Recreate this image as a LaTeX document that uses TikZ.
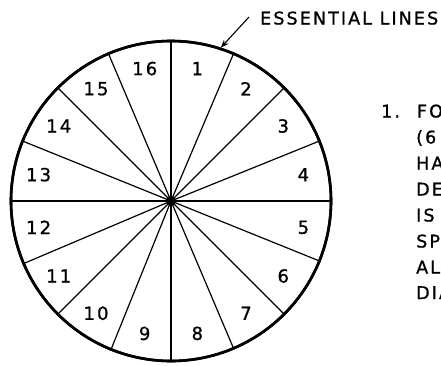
\documentclass[tikz,border=0pt]{standalone}
\usepackage{fontspec}
\usetikzlibrary{arrows.meta}
\newfontfamily\leroy[LetterSpace=12,FakeBold=1]{DejaVu Sans}
\begin{document}
\begin{tikzpicture}[x=1pt,y=1pt,
  rim/.style={circle, draw, line width=2.6pt, minimum size=320pt, inner sep=0pt},
  hubdot/.style={circle, fill, inner sep=0pt, minimum size=10pt},
  spoke/.style={line width=1.2pt},
  num/.style={font=\leroy\fontsize{18}{18}\selectfont, inner sep=0pt},
  txt/.style={font=\leroy\fontsize{17.5}{26}\selectfont, inner sep=0pt, anchor=base west},
  pointer/.style={line width=1.1pt, -{Stealth[length=8pt,width=6pt]}}]
\useasboundingbox (-171,-164) rectangle (270,201);
\node[rim] (wheel) at (0,0) {};
\node[hubdot] (hub) at (0,0) {};
\foreach \i in {0,...,15} {
  \pgfmathsetmacro\a{90-22.5*\i}
  \draw[spoke] (hub.center) -- (wheel.\a);
}
\node[rim] (wheelb) at (0,0) {};
\node[hubdot] (hubb) at (0,0) {};
\foreach \n in {1,...,16} {
  \pgfmathsetmacro\a{101.25-22.5*\n}
  \node[num] (l\n) at (\a:135) {\n};
}
\coordinate (tail) at (78,184);
\draw[pointer] (tail) -- (wheel.72.6);
\node[txt] (ess) at (89,176.5) {ESSENTIAL LINES};
\node[txt] (t1) at (210,83.5) {1.\hspace{17pt}FO};
\node[txt] (t2) at (245,57.5) {(6};
\node[txt] (t3) at (245,31.5) {HA};
\node[txt] (t4) at (245,5.5) {DE};
\node[txt] (t5) at (245,-20.5) {IS};
\node[txt] (t6) at (245,-46.5) {SP};
\node[txt] (t7) at (245,-72.5) {AL};
\node[txt] (t8) at (245,-98) {DIA};
\end{tikzpicture}
\end{document}
